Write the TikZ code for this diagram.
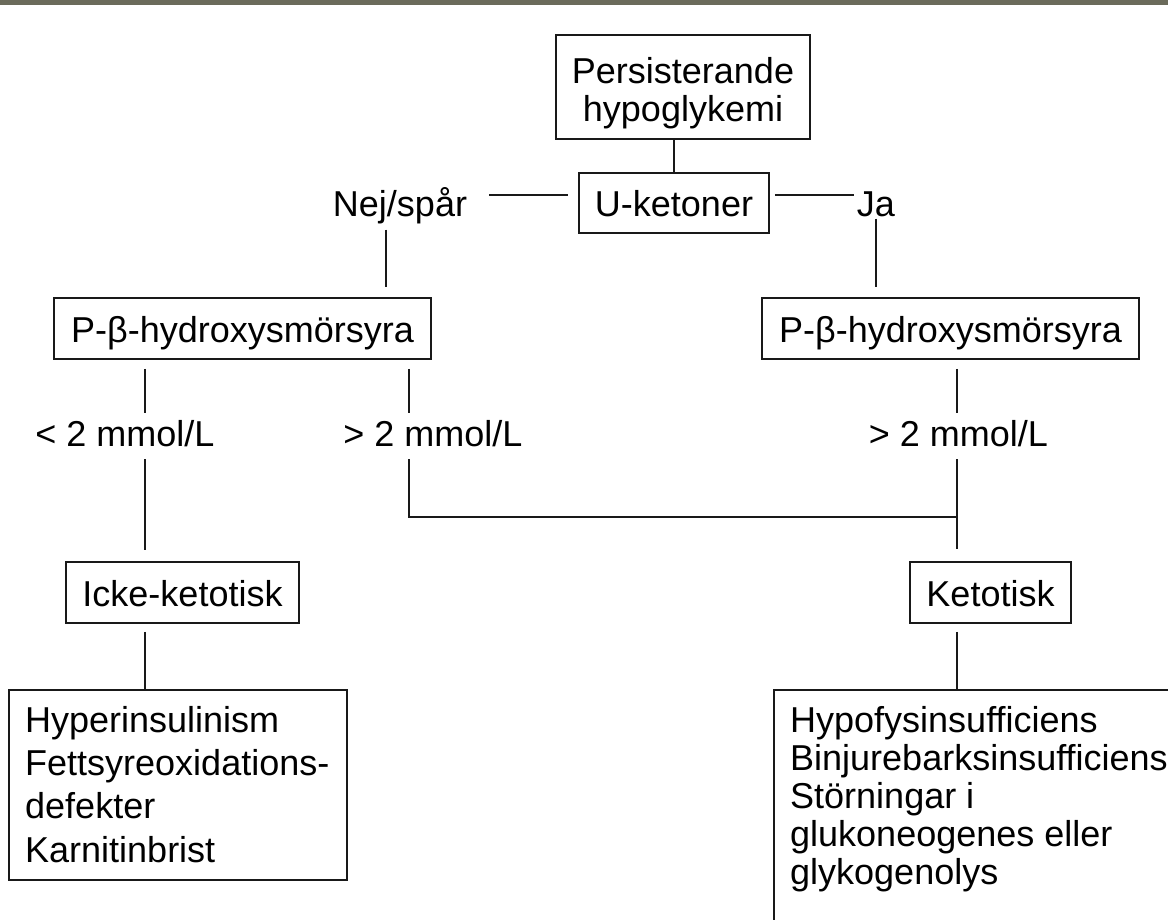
\documentclass[tikz,border=0pt]{standalone}
\usepackage{fontspec}
\setmainfont{Liberation Sans}
\definecolor{topbar}{RGB}{107,107,91}
\definecolor{ink}{RGB}{25,25,25}
\begin{document}
\begin{tikzpicture}[x=1pt,y=-1pt,
  every node/.style={inner sep=0pt, font=\fontsize{36}{38}\selectfont, text=black},
  box/.style={draw=ink, line width=1.6pt, inner sep=0pt},
  lbl/.style={text height=27pt, text depth=0pt},
  ln/.style={draw=ink, line width=1.6pt}]
\useasboundingbox (0,0) rectangle (1168,920);
\clip (0,0) rectangle (1168,920);
\fill[topbar] (0,0) rectangle (1168,5);

% column references
\coordinate (cA) at (145,0);
\coordinate (cB) at (409,0);
\coordinate (cC) at (957,0);
\coordinate (cN) at (386,0);
\coordinate (join) at (957,517);

% nodes
\node[box, minimum width=254pt, minimum height=104pt] (pers) at (683,87) {};
\node[anchor=base, align=center] (perstxt) at (683,122) {Persisterande\\hypoglykemi};
\node[box, lbl, minimum width=190pt, minimum height=60pt] (uket) at (674,203) {U-ketoner};
\node[lbl] (nej) at (400,203) {Nej/spår};
\node[lbl] (ja) at (876,203) {Ja};
\node[box, lbl, minimum width=377pt, minimum height=61pt] (pbl) at (242.5,328.5) {P-β-hydroxysmörsyra};
\node[box, lbl, minimum width=377pt, minimum height=61pt] (pbr) at (950.5,328.5) {P-β-hydroxysmörsyra};
\node[lbl] (lt) at (125,432.5) {< 2 mmol/L};
\node[lbl] (gtl) at (433,432.5) {> 2 mmol/L};
\node[lbl] (gtr) at (958.5,432.5) {> 2 mmol/L};
\node[box, lbl, minimum width=233pt, minimum height=61pt] (icke) at (182.5,592.5) {Icke-ketotisk};
\node[box, lbl, minimum width=161pt, minimum height=61pt] (keto) at (990.5,592.5) {Ketotisk};
\node[box, anchor=north west, minimum width=338pt, minimum height=190pt] (lbig) at (8,689) {};
\node[anchor=base west, align=left, font=\fontsize{36}{43.3}\selectfont] (ltxt) at (25,862)
  {Hyperinsulinism\\Fettsyreoxidations-\\defekter\\Karnitinbrist};
\node[box, anchor=north west, minimum width=420pt, minimum height=260pt] (rbig) at (773,689) {};
\node[anchor=base west, align=left, font=\fontsize{36}{38}\selectfont] (rtxt) at (790,884)
  {Hypofysinsufficiens\\Binjurebarksinsufficiens\\Störningar i\\glukoneogenes eller\\glykogenolys};

% connectors
\draw[ln] (uket.north |- pers.south) -- (uket.north);
\draw[ln, shorten <=22pt, shorten >=10pt] ([yshift=8pt]nej.east) -- ([yshift=8pt]uket.west);
\draw[ln, shorten <=5pt, shorten >=3pt] ([yshift=8pt]uket.east) -- ([yshift=8pt]ja.west);
\draw[ln, shorten <=13pt, shorten >=10pt] (nej.south -| cN) -- (pbl.north -| cN);
\draw[ln, shorten <=2pt, shorten >=10pt] (ja.south) -- (ja.south |- pbr.north);
\draw[ln, shorten <=9pt, shorten >=6pt] (pbl.south -| cA) -- (lt.north -| cA);
\draw[ln, shorten <=13pt, shorten >=11pt] (lt.south -| cA) -- (icke.north -| cA);
\draw[ln, shorten <=9pt, shorten >=6pt] (pbl.south -| cB) -- (gtl.north -| cB);
\draw[ln, shorten <=13pt] (gtl.south -| cB) |- (join);
\draw[ln, shorten <=9pt, shorten >=6pt] (pbr.south -| cC) -- (gtr.north -| cC);
\draw[ln, shorten <=13pt, shorten >=12pt] (gtr.south -| cC) -- (keto.north -| cC);
\draw[ln, shorten <=8pt] (icke.south -| cA) -- (lbig.north -| cA);
\draw[ln, shorten <=8pt] (keto.south -| cC) -- (rbig.north -| cC);
\end{tikzpicture}
\end{document}
